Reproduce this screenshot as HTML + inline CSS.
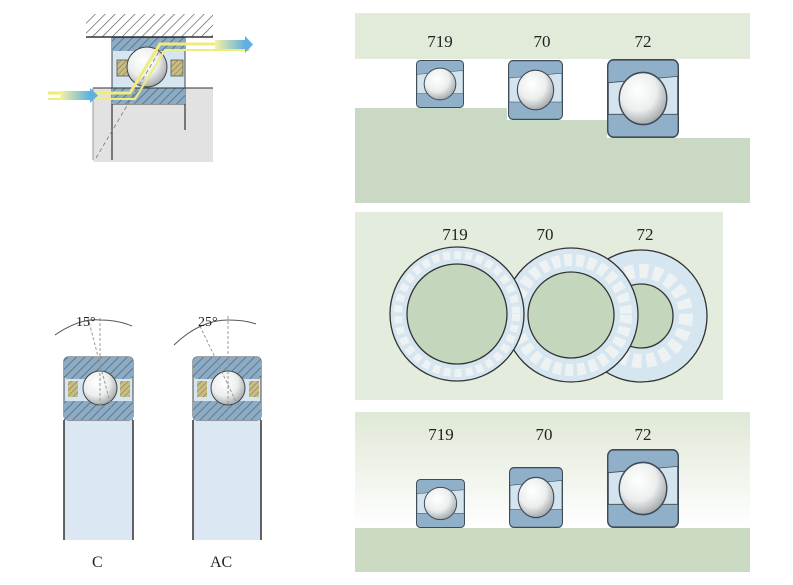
<!DOCTYPE html>
<html><head><meta charset="utf-8"><style>
body{margin:0;background:#fff;}
svg{display:block;}
text{font-family:"Liberation Serif",serif;fill:#222;}
</style></head><body>
<svg width="793" height="585" viewBox="0 0 793 585" xmlns="http://www.w3.org/2000/svg">
<defs>
<radialGradient id="ball" cx="0.4" cy="0.35" r="0.7">
<stop offset="0" stop-color="#ffffff"/><stop offset="0.55" stop-color="#eceeee"/><stop offset="1" stop-color="#9aa0a2"/>
</radialGradient>
<linearGradient id="fade" x1="0" y1="0" x2="0" y2="1">
<stop offset="0" stop-color="#dfe8d6"/><stop offset="1" stop-color="#ffffff"/>
</linearGradient>
<linearGradient id="arr" x1="0" y1="0" x2="1" y2="0">
<stop offset="0" stop-color="#f6f2a0"/><stop offset="1" stop-color="#5fb0e0"/>
</linearGradient>
<pattern id="hatch" width="6" height="6" patternUnits="userSpaceOnUse" patternTransform="rotate(45)">
<rect width="6" height="6" fill="#8eabc4"/><line x1="0" y1="0" x2="0" y2="6" stroke="#4a6a88" stroke-width="1.5"/>
</pattern>
<pattern id="hatchg" width="7" height="7" patternUnits="userSpaceOnUse" patternTransform="rotate(45)">
<rect width="7" height="7" fill="#ffffff"/><line x1="0" y1="0" x2="0" y2="7" stroke="#555" stroke-width="1.3"/>
</pattern>
<pattern id="hatchy" width="4" height="4" patternUnits="userSpaceOnUse" patternTransform="rotate(45)">
<rect width="4" height="4" fill="#c8bd85"/><line x1="0" y1="0" x2="0" y2="4" stroke="#7a7040" stroke-width="1"/>
</pattern>
<symbol id="brg" viewBox="0 0 100 100" preserveAspectRatio="none">
<rect x="1" y="1" width="98" height="98" rx="8" fill="#8fb0c8" stroke="#3e4a55" stroke-width="2"/>
<path d="M2 30 L98 22 L98 70 L2 70 Z" fill="#d4e4ee" stroke="#3e4a55" stroke-width="1"/>
<circle cx="50" cy="50" r="33" fill="url(#ball)" stroke="#3e4a55" stroke-width="2"/>
</symbol>
</defs>

<!-- top-left -->
<rect x="93" y="88" width="120" height="74" fill="#e2e2e2"/>
<rect x="86" y="14" width="127" height="23" fill="url(#hatchg)"/>
<line x1="86" y1="37" x2="213" y2="37" stroke="#333" stroke-width="1.5"/>
<rect x="112" y="38" width="73" height="66" fill="#d6e6f0" stroke="#444" stroke-width="1"/>
<rect x="112" y="38" width="73" height="13" fill="url(#hatch)"/>
<rect x="112" y="88" width="73" height="16" fill="url(#hatch)"/>
<rect x="117" y="60" width="12" height="16" fill="url(#hatchy)" stroke="#555" stroke-width="0.8"/>
<rect x="171" y="60" width="12" height="16" fill="url(#hatchy)" stroke="#555" stroke-width="0.8"/>
<circle cx="147" cy="67" r="20" fill="url(#ball)" stroke="#444" stroke-width="1"/>
<line x1="93" y1="88" x2="213" y2="88" stroke="#333" stroke-width="1"/>
<line x1="112" y1="104" x2="112" y2="160" stroke="#333" stroke-width="1.2"/>
<line x1="93" y1="88" x2="93" y2="160" stroke="#999" stroke-width="1"/>
<line x1="185" y1="104" x2="185" y2="130" stroke="#333" stroke-width="1.2"/>
<line x1="96" y1="158" x2="160" y2="50" stroke="#777" stroke-width="0.8" stroke-dasharray="4,3"/>
<polyline points="48,93 130,93 160,44 250,44" fill="none" stroke="#f0ec7a" stroke-width="3"/>
<polyline points="48,99 135,99 165,50 250,50" fill="none" stroke="#f0ec7a" stroke-width="2"/>
<rect x="60" y="91" width="30" height="9" fill="url(#arr)"/>
<polygon points="90,88 98,95.5 90,103" fill="#5fb0e0"/>
<rect x="215" y="40" width="30" height="9" fill="url(#arr)"/>
<polygon points="245,36 253,44.5 245,53" fill="#5fb0e0"/>

<!-- C / AC -->
<g>
<rect x="64" y="420" width="69" height="120" fill="#dbe8f3"/>
<line x1="64" y1="420" x2="64" y2="540" stroke="#333" stroke-width="1.5"/>
<line x1="133" y1="420" x2="133" y2="540" stroke="#333" stroke-width="1.5"/>
<rect x="64" y="357" width="69" height="63" rx="4" fill="#d6e6f0" stroke="#444"/>
<rect x="64" y="357" width="69" height="22" rx="4" fill="url(#hatch)"/>
<rect x="64" y="401" width="69" height="19" fill="url(#hatch)"/>
<rect x="68" y="381" width="10" height="16" fill="url(#hatchy)"/>
<rect x="120" y="381" width="10" height="16" fill="url(#hatchy)"/>
<circle cx="100" cy="388" r="17" fill="url(#ball)" stroke="#444"/>
<line x1="100" y1="318" x2="100" y2="410" stroke="#999" stroke-dasharray="3,2"/>
<line x1="88" y1="318" x2="112" y2="410" stroke="#999" stroke-dasharray="3,2"/>
<path d="M55 335 Q80 318 100 320 Q118 320 132 326" fill="none" stroke="#555"/>
<text x="76" y="326" font-size="14">15°</text>
<text x="92" y="567" font-size="16">C</text>
</g>
<g>
<rect x="193" y="420" width="68" height="120" fill="#dbe8f3"/>
<line x1="193" y1="420" x2="193" y2="540" stroke="#333" stroke-width="1.5"/>
<line x1="261" y1="420" x2="261" y2="540" stroke="#333" stroke-width="1.5"/>
<rect x="193" y="357" width="68" height="63" rx="4" fill="#d6e6f0" stroke="#444"/>
<rect x="193" y="357" width="68" height="22" rx="4" fill="url(#hatch)"/>
<rect x="193" y="401" width="68" height="19" fill="url(#hatch)"/>
<rect x="197" y="381" width="10" height="16" fill="url(#hatchy)"/>
<rect x="249" y="381" width="10" height="16" fill="url(#hatchy)"/>
<circle cx="228" cy="388" r="17" fill="url(#ball)" stroke="#444"/>
<line x1="228" y1="316" x2="228" y2="410" stroke="#999" stroke-dasharray="3,2"/>
<line x1="200" y1="326" x2="240" y2="410" stroke="#999" stroke-dasharray="3,2"/>
<path d="M174 345 Q200 320 228 320 Q245 320 256 324" fill="none" stroke="#555"/>
<text x="198" y="326" font-size="14">25°</text>
<text x="210" y="567" font-size="16">AC</text>
</g>

<!-- panel 1 -->
<rect x="355" y="13" width="395" height="46" fill="#e2ebd9"/>
<path d="M355 108 L507 108 L507 120 L607 120 L607 138 L750 138 L750 203 L355 203 Z" fill="#c9d9c3"/>
<text x="440" y="47" font-size="17" text-anchor="middle">719</text>
<text x="542" y="47" font-size="17" text-anchor="middle">70</text>
<text x="643" y="47" font-size="17" text-anchor="middle">72</text>
<use href="#brg" x="416" y="60" width="48" height="48"/>
<use href="#brg" x="508" y="60" width="55" height="60"/>
<use href="#brg" x="607" y="59" width="72" height="79"/>

<!-- panel 2 -->
<rect x="355" y="212" width="368" height="188" fill="#e4ecdd"/>
<text x="455" y="240" font-size="17" text-anchor="middle">719</text>
<text x="545" y="240" font-size="17" text-anchor="middle">70</text>
<text x="645" y="240" font-size="17" text-anchor="middle">72</text>
<g stroke="#333" stroke-width="1.3">
<circle cx="641" cy="316" r="66" fill="#d6e6f0"/>
<circle cx="641" cy="316" r="45" fill="none" stroke-width="14" stroke="#eef2f2" stroke-dasharray="9,5"/>
<circle cx="641" cy="316" r="32" fill="#c4d6bc"/>
<circle cx="571" cy="315" r="67" fill="#d6e6f0"/>
<circle cx="571" cy="315" r="55" fill="none" stroke-width="12" stroke="#eef2f2" stroke-dasharray="8,4"/>
<circle cx="571" cy="315" r="43" fill="#c4d6bc"/>
<circle cx="457" cy="314" r="67" fill="#d6e6f0"/>
<circle cx="457" cy="314" r="59" fill="none" stroke-width="8" stroke="#eef2f2" stroke-dasharray="7,4"/>
<circle cx="457" cy="314" r="50" fill="#c4d6bc"/>
</g>

<!-- panel 3 -->
<rect x="355" y="412" width="395" height="116" fill="url(#fade)"/>
<rect x="355" y="528" width="395" height="44" fill="#cbdbc3"/>
<text x="441" y="440" font-size="17" text-anchor="middle">719</text>
<text x="544" y="440" font-size="17" text-anchor="middle">70</text>
<text x="643" y="440" font-size="17" text-anchor="middle">72</text>
<use href="#brg" x="416" y="479" width="49" height="49"/>
<use href="#brg" x="509" y="467" width="54" height="61"/>
<use href="#brg" x="607" y="449" width="72" height="79"/>
</svg>
</body></html>
